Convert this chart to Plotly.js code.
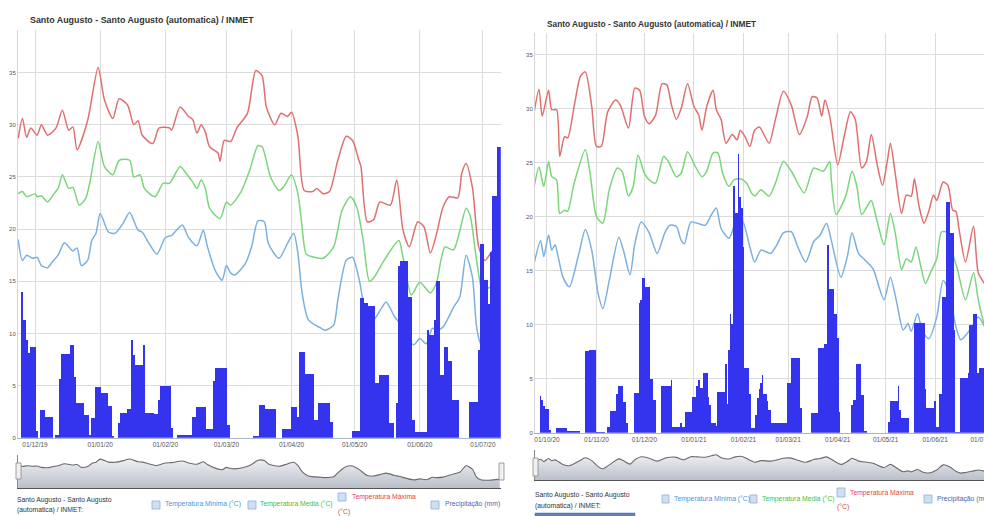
<!DOCTYPE html>
<html><head><meta charset="utf-8">
<script src="https://cdn.plot.ly/plotly-3.0.1.min.js"></script>
<style>html,body{margin:0;padding:0;background:#fff;overflow:hidden}#chart{width:984px;height:516px}</style>
</head><body><div id="chart"></div>
<script>
// ---------------- DATA ----------------
const chartTitle = 'Santo Augusto - Santo Augusto (automatica) / INMET';
const stationLine1 = 'Santo Augusto - Santo Augusto';
const stationLine2 = '(automatica) / INMET:';
const seriesNames = ['Temperatura Minima (°C)', 'Temperatura Media (°C)', 'Temperatura Máxima', '(°C)', 'Precipitação (mm)'];
const yTicks = [0, 5, 10, 15, 20, 25, 30, 35];

const leftTickDates = ['2019-12-01','2020-01-01','2020-02-01','2020-03-01','2020-04-01','2020-05-01','2020-06-01','2020-07-01'];
const leftTickLabels = ['01/12/19','01/01/20','01/02/20','01/03/20','01/04/20','01/05/20','01/06/20','01/07/20'];
const rightTickDates = ['2020-10-01','2020-11-01','2020-12-01','2021-01-01','2021-02-01','2021-03-01','2021-04-01','2021-05-01','2021-06-01','2021-07-01'];
const rightTickLabels = ['01/10/20','01/11/20','01/12/20','01/01/21','01/02/21','01/03/21','01/04/21','01/05/21','01/06/21','01/07/21'];

// Left chart (Nov 2019 - Jul 2020)
const leftMinDates = ['2019-11-23','2019-11-25','2019-11-27','2019-11-30','2019-12-02','2019-12-04','2019-12-07','2019-12-09','2019-12-12','2019-12-15','2019-12-19','2019-12-21','2019-12-23','2019-12-26','2019-12-28','2019-12-30','2020-01-01','2020-01-05','2020-01-08','2020-01-12','2020-01-15','2020-01-19','2020-01-21','2020-01-24','2020-01-28','2020-02-01','2020-02-04','2020-02-09','2020-02-12','2020-02-16','2020-02-19','2020-02-21','2020-02-25','2020-02-28','2020-03-01','2020-03-03','2020-03-05','2020-03-10','2020-03-13','2020-03-16','2020-03-19','2020-03-21','2020-03-26','2020-03-30','2020-04-02','2020-04-04','2020-04-06','2020-04-09','2020-04-15','2020-04-17','2020-04-21','2020-04-23','2020-04-27','2020-04-30','2020-05-03','2020-05-07','2020-05-10','2020-05-14','2020-05-16','2020-05-20','2020-05-22','2020-05-29','2020-06-01','2020-06-04','2020-06-07','2020-06-09','2020-06-12','2020-06-17','2020-06-20','2020-06-23','2020-06-26','2020-06-28','2020-06-30','2020-07-04','2020-07-09'];
const leftMinValues = [19.0,17.0,17.5,17.2,17.3,16.5,16.3,16.8,17.5,18.7,17.9,18.2,16.5,17.0,18.9,19.6,21.5,19.7,19.6,20.6,21.6,19.9,19.7,18.7,17.6,19.2,19.4,20.4,19.2,18.4,19.9,18.3,15.9,15.1,16.5,15.8,15.6,16.7,18.3,20.8,20.7,18.6,17.2,18.6,19.6,17.7,13.9,11.3,10.5,10.3,10.8,13.2,17.0,17.3,15.3,11.6,11.3,12.5,13.0,11.6,11.1,8.9,9.5,9.0,10.5,10.3,10.6,12.5,13.5,17.5,15.4,10.6,9.0,8.7,9.2];

const leftMedDates = ['2019-11-23','2019-11-25','2019-11-27','2019-12-01','2019-12-02','2019-12-04','2019-12-07','2019-12-10','2019-12-12','2019-12-14','2019-12-17','2019-12-19','2019-12-22','2019-12-25','2019-12-27','2019-12-31','2020-01-03','2020-01-07','2020-01-10','2020-01-15','2020-01-17','2020-01-20','2020-01-22','2020-01-27','2020-01-31','2020-02-03','2020-02-08','2020-02-11','2020-02-14','2020-02-16','2020-02-18','2020-02-20','2020-02-22','2020-02-27','2020-03-01','2020-03-03','2020-03-08','2020-03-12','2020-03-16','2020-03-18','2020-03-22','2020-03-26','2020-03-28','2020-04-01','2020-04-04','2020-04-06','2020-04-08','2020-04-12','2020-04-16','2020-04-21','2020-04-25','2020-04-29','2020-05-02','2020-05-05','2020-05-08','2020-05-10','2020-05-15','2020-05-22','2020-05-24','2020-05-28','2020-06-01','2020-06-06','2020-06-09','2020-06-11','2020-06-13','2020-06-17','2020-06-23','2020-06-25','2020-06-28','2020-07-01','2020-07-05','2020-07-09'];
const leftMedValues = [23.4,23.6,23.1,23.4,23.1,23.2,22.6,23.4,23.9,25.2,23.9,24.0,22.3,22.9,24.4,28.4,26.0,25.2,26.6,26.6,25.0,25.2,23.9,23.1,24.4,24.4,26.0,25.3,24.5,23.9,24.7,23.9,22.0,21.0,22.6,22.3,23.6,25.6,28.0,27.9,25.0,23.7,24.0,25.2,23.4,20.2,17.6,17.3,17.2,18.3,21.8,23.1,22.1,19.0,15.0,15.3,17.0,18.9,17.3,13.7,14.9,13.9,14.9,17.0,18.3,18.0,22.0,21.2,17.0,14.0,14.5,14.0];

const leftMaxDates = ['2019-11-23','2019-11-25','2019-11-27','2019-11-29','2019-12-02','2019-12-04','2019-12-07','2019-12-11','2019-12-14','2019-12-17','2019-12-19','2019-12-21','2019-12-26','2019-12-31','2020-01-03','2020-01-07','2020-01-10','2020-01-14','2020-01-17','2020-01-19','2020-01-21','2020-01-26','2020-01-29','2020-02-03','2020-02-04','2020-02-08','2020-02-12','2020-02-14','2020-02-16','2020-02-18','2020-02-20','2020-02-22','2020-02-26','2020-02-27','2020-02-29','2020-03-03','2020-03-06','2020-03-11','2020-03-15','2020-03-18','2020-03-20','2020-03-24','2020-03-27','2020-03-30','2020-04-01','2020-04-04','2020-04-07','2020-04-11','2020-04-13','2020-04-16','2020-04-19','2020-04-23','2020-04-27','2020-04-30','2020-05-03','2020-05-04','2020-05-07','2020-05-10','2020-05-13','2020-05-18','2020-05-21','2020-05-24','2020-05-27','2020-05-31','2020-06-03','2020-06-06','2020-06-09','2020-06-12','2020-06-15','2020-06-19','2020-06-21','2020-06-23','2020-06-26','2020-06-29','2020-07-02','2020-07-06','2020-07-09'];
const leftMaxValues = [28.7,30.6,28.8,29.7,29.0,30.0,29.0,29.7,31.4,29.5,29.8,27.6,30.4,35.5,32.4,30.6,32.5,31.9,30.0,30.4,29.0,28.2,29.7,29.7,29.5,31.7,30.8,30.5,29.2,30.0,29.3,27.9,27.3,26.5,28.5,28.4,29.7,31.1,35.2,34.7,31.7,30.0,31.1,30.8,31.2,28.9,23.7,23.6,23.9,23.4,23.6,26.6,28.9,28.5,26.6,26.0,20.7,20.9,22.6,22.3,24.7,19.9,18.3,20.7,20.2,17.7,19.6,22.1,23.1,23.0,25.4,26.3,24.0,18.3,17.0,18.0,17.5];

const leftPrecipStart = '2019-11-25';
const leftPrecipValues = [
  14.0,11.3,9.4,8.1,8.7,8.7,8.7,
  0.6,0,2.65,2.65,2.0,2.0,2.0,2.0,0,0.25,
  0.25,5.6,8.0,8.0,8.0,8.0,8.9,8.9,5.8,3.3,
  3.3,3.3,3.3,2.2,2.2,0.3,1.85,1.85,4.9,4.9,
  4.9,4.25,4.25,4.25,3.0,3.0,0.15,0,0,1.4,
  2.4,2.4,2.4,2.8,2.8,9.4,7.9,7.0,7.0,7.0,
  7.0,8.9,2.4,2.4,2.4,2.4,2.3,2.3,3.6,5.0,
  5.0,5.0,5.0,5.0,0.9,0,0,0.3,0.3,0.3,
  0.3,0.3,0.3,0.3,2.0,2.0,2.9,2.9,2.9,2.9,
  2.9,0.8,0.8,0.8,5.4,6.65,6.65,6.65,6.65,6.65,
  6.65,1.2,0,0,0,0,0,0,0,0,
  0,0,0,0.16,0.16,0.16,3.1,3.1,3.1,2.8,
  2.8,2.8,2.8,2.8,0,0,0,0.8,0.8,0.8,
  0.8,2.9,2.9,2.9,2.0,8.2,8.2,8.2,6.1,6.1,
  6.1,6.1,1.7,1.7,3.3,3.3,3.3,3.3,3.3,3.3,
  1.5,0,0,0,0,0,0,0,0,0,
  0.64,0.64,0.64,0.64,13.4,13.4,12.9,12.9,12.6,12.6,
  12.6,5.2,5.2,6.0,6.0,6.0,6.0,6.0,1.4,1.4,
  0,3.3,16.5,16.9,16.9,16.9,16.9,13.5,13.5,1.7,
  0.5,0.5,0.5,0.5,0.5,0.5,10.3,9.8,9.8,11.3,
  15.0,15.0,6.0,6.0,8.7,8.7,7.4,7.4,3.6,3.6,
  3.6,0,0,0,0,0,3.4,3.4,3.4,3.4,
  8.4,18.6,18.6,15.1,15.1,12.8,17.8,23.2,23.2,27.9,27.9
];

// Right chart (Sep 2020 - Jul 2021)
const rightMinDates = ['2020-09-23','2020-09-27','2020-09-29','2020-10-02','2020-10-04','2020-10-06','2020-10-08','2020-10-11','2020-10-15','2020-10-21','2020-10-25','2020-10-29','2020-11-02','2020-11-05','2020-11-09','2020-11-15','2020-11-18','2020-11-22','2020-11-25','2020-11-29','2020-12-04','2020-12-09','2020-12-14','2020-12-17','2020-12-21','2020-12-24','2020-12-26','2020-12-30','2021-01-03','2021-01-08','2021-01-12','2021-01-15','2021-01-18','2021-01-23','2021-01-27','2021-01-31','2021-02-05','2021-02-08','2021-02-12','2021-02-18','2021-02-22','2021-02-26','2021-03-03','2021-03-07','2021-03-12','2021-03-17','2021-03-21','2021-03-25','2021-03-28','2021-04-03','2021-04-07','2021-04-10','2021-04-14','2021-04-18','2021-04-23','2021-04-30','2021-05-04','2021-05-08','2021-05-12','2021-05-15','2021-05-17','2021-05-21','2021-05-24','2021-05-28','2021-06-02','2021-06-06','2021-06-10','2021-06-14','2021-06-17','2021-06-20','2021-06-24','2021-06-28','2021-07-02'];
const rightMinValues = [15.7,17.8,16.3,18.3,16.9,17.4,16.3,14.4,13.5,16.6,18.8,16.9,12.9,11.5,14.1,18.1,16.8,14.6,17.5,19.5,18.5,16.6,18.6,19.2,19.1,17.8,17.5,19.5,19.4,19.2,20.2,20.8,18.9,18.0,19.4,19.7,17.2,15.8,16.9,16.6,17.4,18.5,18.6,17.2,15.8,17.7,18.3,19.4,17.8,14.4,16.3,18.5,16.6,16.0,15.2,12.3,14.4,12.0,9.5,10.1,9.4,11.0,9.4,8.7,10.7,14.1,12.9,9.8,8.6,9.0,9.8,10.7,9.8];

const rightMedDates = ['2020-09-23','2020-09-26','2020-09-29','2020-10-02','2020-10-04','2020-10-07','2020-10-09','2020-10-12','2020-10-14','2020-10-18','2020-10-25','2020-10-28','2020-11-01','2020-11-05','2020-11-09','2020-11-14','2020-11-17','2020-11-21','2020-11-24','2020-11-27','2020-12-01','2020-12-04','2020-12-08','2020-12-13','2020-12-16','2020-12-21','2020-12-24','2020-12-28','2021-01-02','2021-01-06','2021-01-09','2021-01-13','2021-01-16','2021-01-19','2021-01-23','2021-01-26','2021-01-30','2021-02-03','2021-02-06','2021-02-08','2021-02-12','2021-02-17','2021-02-21','2021-02-26','2021-03-03','2021-03-11','2021-03-17','2021-03-23','2021-03-27','2021-03-28','2021-03-31','2021-04-06','2021-04-10','2021-04-13','2021-04-16','2021-04-20','2021-04-22','2021-04-26','2021-04-30','2021-05-04','2021-05-07','2021-05-11','2021-05-14','2021-05-17','2021-05-20','2021-05-23','2021-05-26','2021-05-29','2021-06-02','2021-06-05','2021-06-09','2021-06-12','2021-06-15','2021-06-20','2021-06-25','2021-06-28','2021-07-02'];
const rightMedValues = [22.8,24.6,22.8,25.1,23.7,23.4,20.3,20.6,20.5,23.1,26.2,24.0,20.0,19.4,22.5,24.5,24.2,21.9,22.8,25.7,24.0,23.4,23.1,25.6,25.1,23.7,24.0,26.0,24.6,23.7,24.2,25.9,25.9,24.0,22.8,23.4,23.5,23.1,22.2,21.9,22.5,21.9,23.1,25.1,24.2,22.2,24.5,24.2,25.1,23.4,20.2,21.9,24.2,22.8,20.2,21.1,21.5,19.4,17.4,20.3,18.5,15.1,16.1,15.8,17.2,15.4,13.8,14.8,16.1,18.6,18.5,16.6,15.1,12.3,14.8,12.3,9.8];

const rightMaxDates = ['2020-09-23','2020-09-26','2020-09-28','2020-10-02','2020-10-04','2020-10-07','2020-10-09','2020-10-12','2020-10-14','2020-10-18','2020-10-22','2020-10-25','2020-10-29','2020-11-01','2020-11-04','2020-11-08','2020-11-13','2020-11-16','2020-11-21','2020-11-25','2020-11-28','2020-12-01','2020-12-04','2020-12-08','2020-12-12','2020-12-15','2020-12-18','2020-12-21','2020-12-24','2020-12-28','2021-01-01','2021-01-04','2021-01-06','2021-01-09','2021-01-13','2021-01-15','2021-01-18','2021-01-21','2021-01-25','2021-01-28','2021-01-30','2021-02-02','2021-02-05','2021-02-08','2021-02-11','2021-02-17','2021-02-21','2021-02-26','2021-03-03','2021-03-08','2021-03-13','2021-03-16','2021-03-19','2021-03-22','2021-03-24','2021-03-27','2021-04-01','2021-04-05','2021-04-09','2021-04-12','2021-04-16','2021-04-19','2021-04-22','2021-04-26','2021-04-29','2021-05-02','2021-05-04','2021-05-07','2021-05-11','2021-05-14','2021-05-17','2021-05-19','2021-05-22','2021-05-25','2021-05-28','2021-05-31','2021-06-02','2021-06-06','2021-06-09','2021-06-12','2021-06-14','2021-06-16','2021-06-20','2021-06-25','2021-06-28','2021-07-02'];
const rightMaxValues = [29.7,31.8,29.3,31.7,29.9,29.9,25.6,27.4,27.3,30.2,33.0,33.4,30.2,26.5,26.5,29.7,30.8,30.3,28.2,31.9,31.7,29.3,28.6,29.4,32.3,32.2,30.3,29.0,30.0,32.3,30.2,29.4,28.0,30.2,31.7,29.9,29.0,26.8,27.6,27.1,28.0,27.4,26.5,28.0,28.3,26.8,29.0,31.6,30.3,27.6,29.3,31.1,31.0,29.3,30.8,29.3,24.8,27.4,29.7,29.0,24.5,25.1,27.6,24.6,22.9,25.1,26.8,24.0,20.3,22.0,21.9,23.5,20.9,19.4,20.5,22.0,21.5,23.2,22.9,20.6,20.5,18.8,15.8,19.1,14.8,13.8];

const rightPrecipStart = '2020-09-27';
const rightPrecipValues = [
  3.4,3.0,2.5,2.2,2.2,
  2.2,0.25,0,0,0,0.4,0.4,0.4,0.4,0.4,
  0.4,0.4,0.2,0.2,0.2,0.2,0.2,0.2,0.2,0.2,
  0,0,0,7.6,7.6,7.6,7.7,7.7,7.7,7.7,
  0.1,0.1,0.1,0.1,0.1,0.1,0,0.5,0.5,2.0,
  2.0,2.0,2.0,3.6,4.3,4.3,4.3,2.8,2.8,0.9,
  0,0,0,0,3.7,3.7,3.7,12.0,12.3,14.3,
  14.3,13.5,13.5,13.5,5.0,5.0,3.0,3.0,0,0,
  0,4.3,4.3,4.3,4.3,4.3,4.3,4.9,0.55,0.55,
  0.55,0.55,0.55,0.9,0.5,0.5,1.9,1.9,1.9,1.9,
  3.3,3.3,3.3,4.3,4.9,4.1,4.1,5.5,5.5,5.5,
  3.3,2.6,0.9,0.9,0.9,0.6,3.8,3.8,3.8,3.8,
  3.8,6.4,2.7,7.7,11.0,10.1,22.8,20.3,20.3,25.8,
  21.8,20.8,17.2,6.0,6.0,6.0,3.6,0.4,0.4,0.4,
  1.6,3.2,4.0,4.6,5.3,3.6,3.6,2.9,2.1,2.1,
  0.9,0.9,0.9,0.9,0.9,0.9,0.9,0.9,0.9,0.9,
  4.6,4.6,6.9,6.9,6.9,6.9,6.9,6.9,2.3,0,
  0,0,0,0,0,1.8,1.8,1.8,1.8,7.8,
  7.8,7.8,7.8,8.2,8.2,17.4,13.3,13.3,13.3,11.0,
  11.0,8.8,1.9,0,0,0,0,0,0,0,
  2.6,3.0,3.0,6.4,6.4,6.4,3.5,3.5,0.2,0.2,
  0,0,0,0,0,0,0,0,0,0,
  0,0,0,1.0,2.9,2.9,2.9,2.9,2.9,4.3,
  2.1,1.4,1.4,1.4,1.4,1.4,0,0,0,10.2,
  10.2,10.2,10.2,10.2,10.2,10.2,4.0,2.3,2.3,2.3,
  2.3,2.3,2.9,0.5,0.5,3.6,3.6,12.6,12.6,21.4,
  21.4,21.4,18.5,18.5,9.5,0.1,0.1,0.1,5.1,5.1,
  5.1,5.1,5.1,5.5,10.0,10.0,11.0,11.0,11.0,5.5,
  6.0,6.0,6.0,6.0
];

// ---------------- STYLE / LAYOUT ----------------
const W = 984, H = 516;
const FONT = 'Liberation Sans, Arial, sans-serif';
const C_MIN = '#7cb0e0', C_MED = '#7ad67a', C_MAX = '#e07070', C_BAR = '#3434ee';
const GRID = '#dcdcdc';

function dailyDates(start, n) {
  const t0 = Date.parse(start + 'T00:00:00Z');
  const out = [];
  for (let i = 0; i < n; i++) out.push(new Date(t0 + i * 86400000).toISOString().slice(0, 10));
  return out;
}
const px = x => x / W;
const py = y => 1 - y / H;

function lineTrace(x, y, color, xa, ya) {
  return {type: 'scatter', mode: 'lines', x: x, y: y, xaxis: xa, yaxis: ya,
    line: {color: color, width: 1.5, shape: 'spline', smoothing: 0.7}, hoverinfo: 'skip'};
}
function barTrace(start, vals, xa, ya) {
  return {type: 'bar', x: dailyDates(start, vals.length), y: vals, xaxis: xa, yaxis: ya,
    marker: {color: C_BAR, line: {width: 0}}, hoverinfo: 'skip'};
}
function navTrace(x, y, xa, ya) {
  return {type: 'scatter', mode: 'lines', x: x, y: y, xaxis: xa, yaxis: ya, fill: 'tozeroy',
    fillcolor: 'rgba(196,200,210,0.85)',
    fillgradient: {type: 'vertical', colorscale: [[0, '#aeb3c0'], [1, '#eef0f3']]},
    line: {color: '#6a6a6a', width: 1.1, shape: 'spline', smoothing: 0.7}, hoverinfo: 'skip'};
}

const data = [
  lineTrace(leftMinDates, leftMinValues, C_MIN, 'x', 'y'),
  lineTrace(leftMedDates, leftMedValues, C_MED, 'x', 'y'),
  lineTrace(leftMaxDates, leftMaxValues, C_MAX, 'x', 'y'),
  barTrace(leftPrecipStart, leftPrecipValues, 'x', 'y5'),
  lineTrace(rightMinDates, rightMinValues, C_MIN, 'x2', 'y2'),
  lineTrace(rightMedDates, rightMedValues, C_MED, 'x2', 'y2'),
  lineTrace(rightMaxDates, rightMaxValues, C_MAX, 'x2', 'y2'),
  barTrace(rightPrecipStart, rightPrecipValues, 'x2', 'y6'),
  navTrace(leftMinDates, leftMinValues, 'x3', 'y3'),
  navTrace(rightMinDates, rightMinValues, 'x4', 'y4')
];

const leftRange = ['2019-11-22 21:36', '2020-07-09 12:00'];
const rightRange = ['2020-09-23 12:00', '2021-07-01 14:00'];
const leftDom = [px(18), px(500.8)];
const rightDom = [px(535), 1];
const tickFont = {family: FONT, size: 6.5, color: '#555'};

function xMain(range, dom, anchor, tv, tt) {
  return {type: 'date', domain: dom, anchor: anchor, range: range, tickvals: tv, ticktext: tt,
    showgrid: true, gridcolor: GRID, gridwidth: 1, ticks: '', tickfont: tickFont, zeroline: false,
    showline: true, linecolor: '#a9b5c9', linewidth: 1, fixedrange: true, ticklabeloverflow: 'allow', tickangle: 0};
}
function yMain(range, dom, anchor) {
  return {domain: dom, anchor: anchor, range: range, tickvals: yTicks, showgrid: true, gridcolor: GRID,
    ticks: '', tickfont: {family: FONT, size: 6, color: '#555'}, zeroline: false, showline: true,
    linecolor: '#d6d6d6', fixedrange: true};
}
function yOver(range, over, anchor) {
  return {overlaying: over, anchor: anchor, range: range, visible: false, showgrid: false, zeroline: false, fixedrange: true};
}
function xNav(range, dom, anchor) {
  return {type: 'date', domain: dom, anchor: anchor, range: range, showgrid: false, showticklabels: false,
    ticks: '', zeroline: false, showline: true, linecolor: '#555', linewidth: 1.2, fixedrange: true};
}
function yNav(dom, anchor) {
  return {domain: dom, anchor: anchor, range: [4, 24], showgrid: false, showticklabels: false, ticks: '',
    zeroline: false, showline: true, linecolor: '#888', fixedrange: true};
}

const shapes = [];
const annotations = [];
function rectPx(x0, y0, x1, y1, fill, line, lw) {
  shapes.push({type: 'rect', xref: 'paper', yref: 'paper', x0: px(x0), x1: px(x1), y0: py(y1), y1: py(y0),
    fillcolor: fill, line: {color: line, width: lw === undefined ? 0.8 : lw}, layer: 'above'});
}
function textPx(x, y, text, color, size, anchor) {
  annotations.push({xref: 'paper', yref: 'paper', x: px(x), y: py(y), text: text, showarrow: false,
    xanchor: anchor || 'left', yanchor: 'middle', font: {family: FONT, size: size || 8, color: color || '#333'}});
}

// titles
annotations.push({xref: 'paper', yref: 'paper', x: px(28), y: py(20), text: '<b>' + chartTitle + '</b>', showarrow: false,
  xanchor: 'left', yanchor: 'middle', font: {family: FONT, size: 8.9, color: '#333'}});
annotations.push({xref: 'paper', yref: 'paper', x: px(545), y: py(24), text: '<b>' + chartTitle + '</b>', showarrow: false,
  xanchor: 'left', yanchor: 'middle', font: {family: FONT, size: 8.3, color: '#333'}});

// navigator handles
rectPx(16, 463, 21, 479, '#f0f0f0', '#8a8a8a', 0.8);
rectPx(499, 463, 504, 480, '#f0f0f0', '#8a8a8a', 0.8);
rectPx(533, 458, 538, 476, '#f0f0f0', '#8a8a8a', 0.8);

// legends
const CB_FILL = '#cfe0f3', CB_LINE = '#8eaed8';
const T_MIN = '#4f95d6', T_MED = '#3fbf3f', T_MAX = '#e04545', T_PRE = '#4a66ad';
const LS = 6.8;
// left
textPx(15, 500, stationLine1, '#333', LS);
textPx(15, 510, stationLine2, '#333', LS);
rectPx(152, 501, 160, 509, CB_FILL, CB_LINE);
textPx(163, 504, seriesNames[0], T_MIN, LS);
rectPx(248, 501, 256, 509, CB_FILL, CB_LINE);
textPx(258, 504, seriesNames[1], T_MED, LS);
rectPx(338, 493, 346, 501, CB_FILL, CB_LINE);
textPx(350, 497, seriesNames[2], T_MAX, LS);
textPx(336, 512, seriesNames[3], T_MAX, LS);
rectPx(431, 501, 439, 509, CB_FILL, CB_LINE);
textPx(443, 504, seriesNames[4], T_PRE, LS);
// right
textPx(533, 495, stationLine1, '#333', LS);
textPx(533, 506, stationLine2, '#333', LS);
rectPx(535, 513, 635, 520, '#5d80c2', '#4a6cb0', 0.5);
rectPx(662, 495, 669, 503, CB_FILL, CB_LINE);
textPx(672, 499, seriesNames[0], T_MIN, LS);
rectPx(750, 495, 757, 503, CB_FILL, CB_LINE);
textPx(760, 499, seriesNames[1], T_MED, LS);
rectPx(837, 488, 845, 497, CB_FILL, CB_LINE);
textPx(848, 493, seriesNames[2], T_MAX, LS);
textPx(835, 507, seriesNames[3], T_MAX, LS);
rectPx(924, 495, 932, 503, CB_FILL, CB_LINE);
textPx(935, 499, seriesNames[4], T_PRE, LS);

const layout = {
  width: W, height: H, margin: {l: 0, r: 0, t: 0, b: 0, pad: 0},
  paper_bgcolor: '#ffffff', plot_bgcolor: 'rgba(0,0,0,0)', showlegend: false,
  bargap: 0, hovermode: false, dragmode: false,
  xaxis: xMain(leftRange, leftDom, 'y', leftTickDates, leftTickLabels),
  yaxis: yMain([0, 39.09], [py(437.7), py(30)], 'x'),
  yaxis5: yOver([0, 39.09], 'y', 'x'),
  xaxis2: xMain(rightRange, rightDom, 'y2', rightTickDates, rightTickLabels),
  yaxis2: yMain([0, 37.0], [py(432.7), py(33)], 'x2'),
  yaxis6: yOver([0, 37.0], 'y2', 'x2'),
  xaxis3: xNav(leftRange, leftDom, 'y3'),
  yaxis3: yNav([py(488), py(455)], 'x3'),
  xaxis4: xNav(rightRange, rightDom, 'y4'),
  yaxis4: yNav([py(480), py(450)], 'x4'),
  shapes: shapes,
  annotations: annotations
};

Plotly.newPlot('chart', data, layout, {displayModeBar: false, staticPlot: true});
</script>
</body></html>
